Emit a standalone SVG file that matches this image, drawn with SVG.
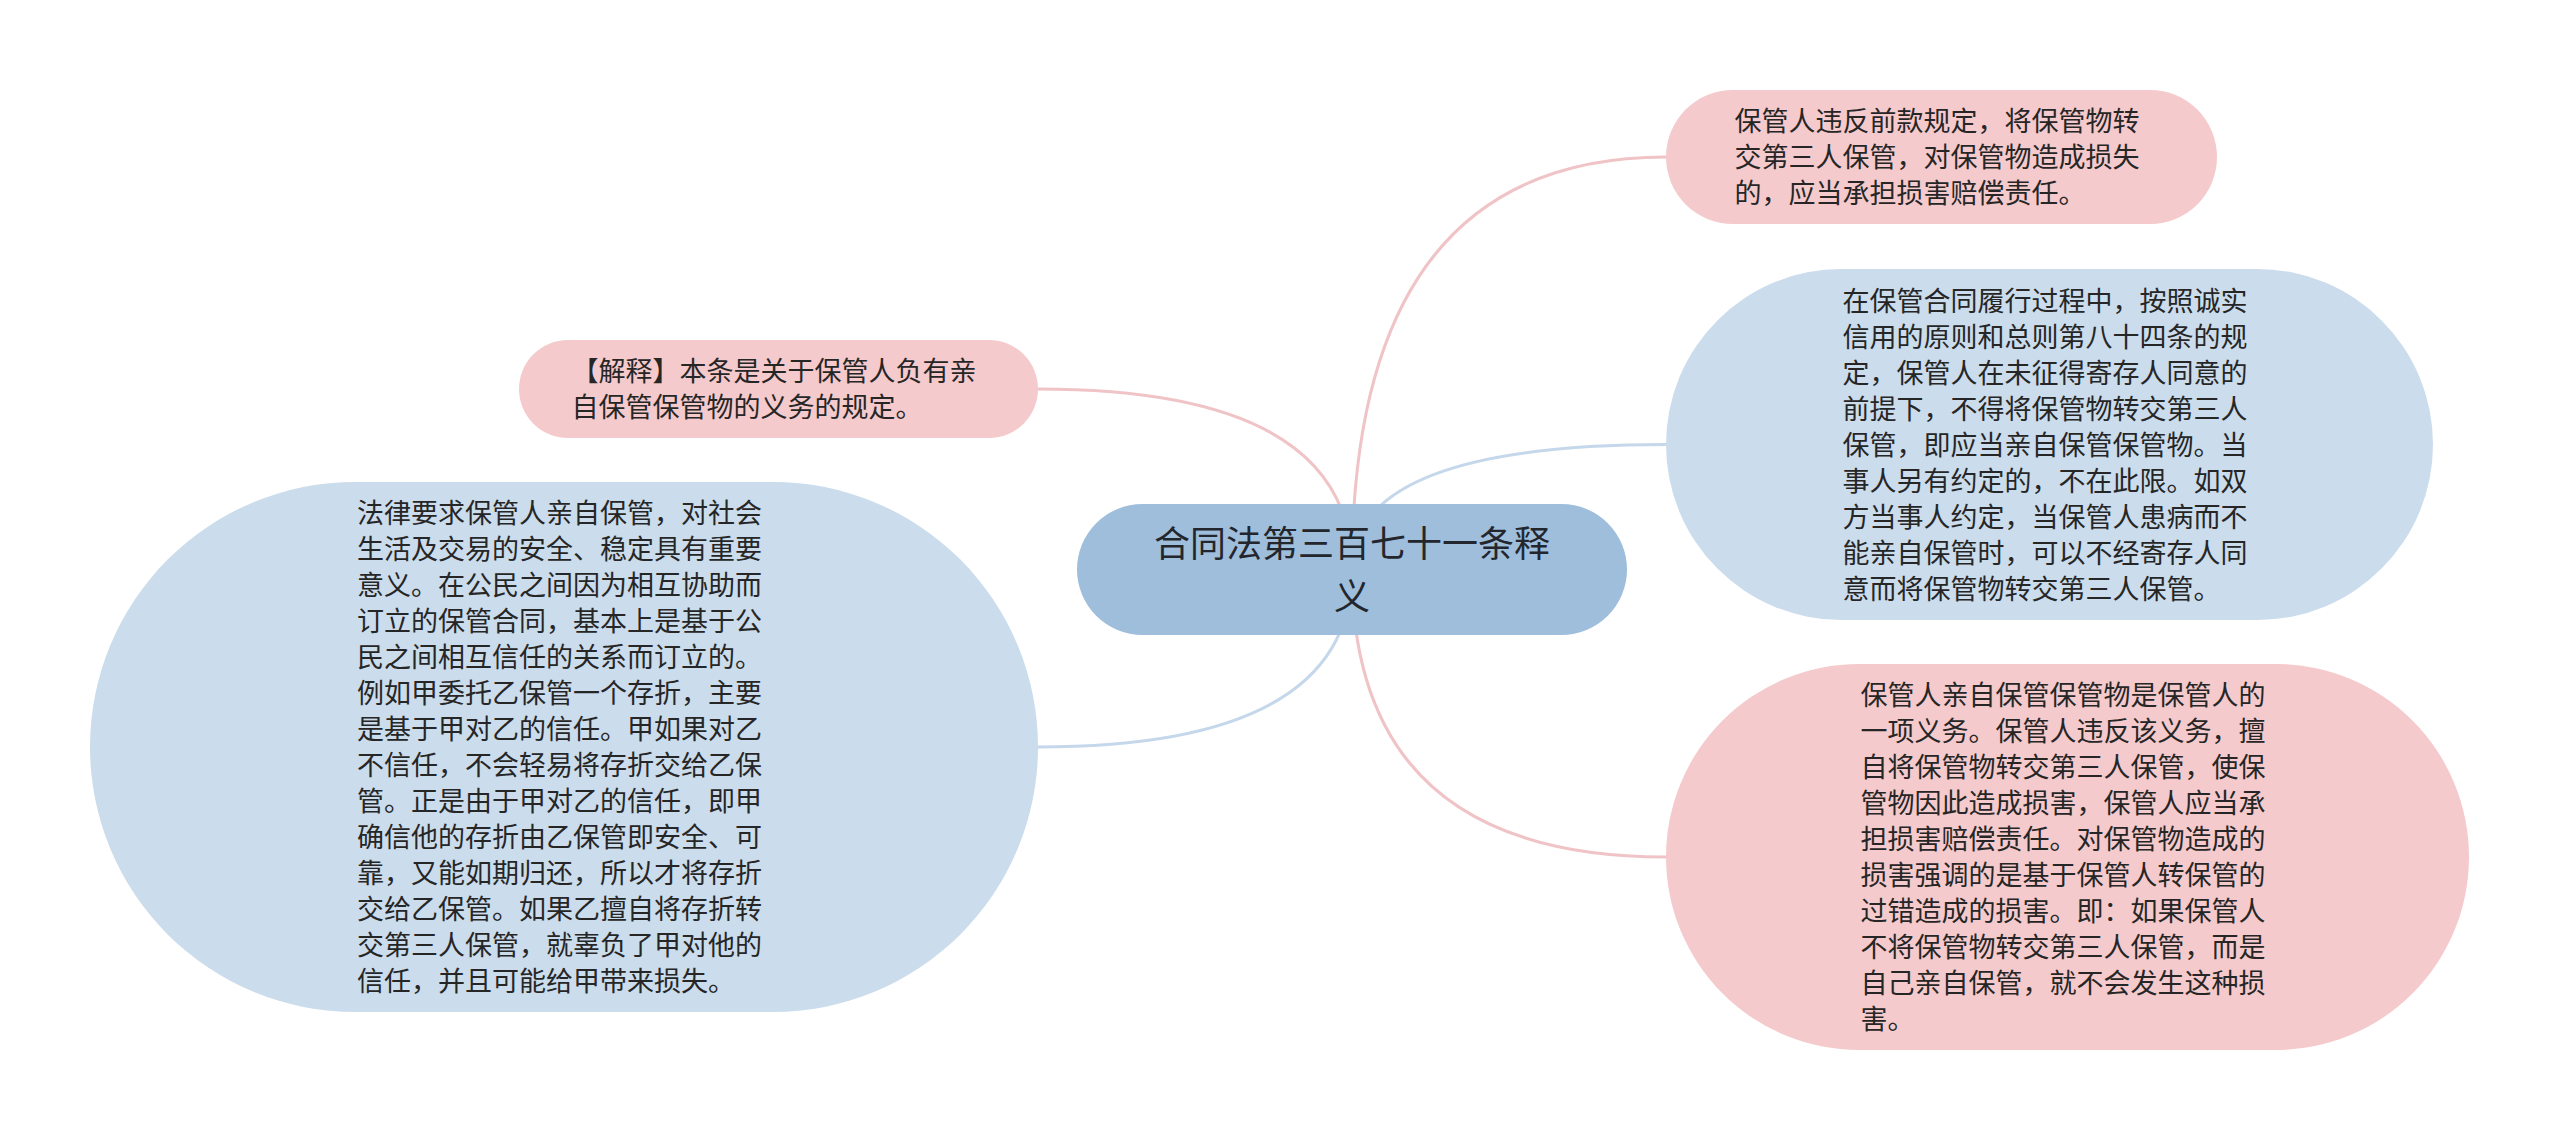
<svg xmlns="http://www.w3.org/2000/svg" width="2560" height="1139" viewBox="0 0 2560 1139">
<style>
.bg{fill:#ffffff}
.edge{fill:none;stroke-width:3}
.ep{stroke:#f0c3c6}
.eb{stroke:#c5d7ea}
.pink{fill:#f5cacc}
.blue{fill:#cbdcec}
.root{fill:#9fbedc}
.t{font-family:"Noto Sans CJK SC","Noto Sans",sans-serif;font-size:27px;fill:#262626}
.rt{font-family:"Noto Sans CJK SC","Noto Sans",sans-serif;font-size:36px;fill:#23272d;text-anchor:middle}
</style>
<rect class="bg" x="0" y="0" width="2560" height="1139"/>
<g id="connectors">
<path class="edge ep" d="M1352,569.5 Q1352,157 1666,157"/>
<path class="edge eb" d="M1352,569.5 Q1352,444.5 1666,444.5"/>
<path class="edge ep" d="M1352,569.5 Q1352,857 1666,857"/>
<path class="edge ep" d="M1352,569.5 Q1352,389 1038,389"/>
<path class="edge eb" d="M1352,569.5 Q1352,747 1038,747"/>
</g>
<g id="root">
<rect class="root" x="1077" y="504" width="550" height="131" rx="65.5" ry="65.5"/>
<text class="rt" x="1352" y="556.5">合同法第三百七十一条释</text>
<text class="rt" x="1352" y="609.5">义</text>
</g>
<g id="n1">
<rect class="pink" x="1666" y="90" width="551" height="134" rx="67" ry="67"/>
<text class="t" x="1734.5" y="131">保管人违反前款规定，将保管物转</text>
<text class="t" x="1734.5" y="167">交第三人保管，对保管物造成损失</text>
<text class="t" x="1734.5" y="203">的，应当承担损害赔偿责任。</text>
</g>
<g id="n2">
<rect class="blue" x="1666" y="269" width="767" height="351" rx="175.5" ry="175.5"/>
<text class="t" x="1842.5" y="310.5">在保管合同履行过程中，按照诚实</text>
<text class="t" x="1842.5" y="346.5">信用的原则和总则第八十四条的规</text>
<text class="t" x="1842.5" y="382.5">定，保管人在未征得寄存人同意的</text>
<text class="t" x="1842.5" y="418.5">前提下，不得将保管物转交第三人</text>
<text class="t" x="1842.5" y="454.5">保管，即应当亲自保管保管物。当</text>
<text class="t" x="1842.5" y="490.5">事人另有约定的，不在此限。如双</text>
<text class="t" x="1842.5" y="526.5">方当事人约定，当保管人患病而不</text>
<text class="t" x="1842.5" y="562.5">能亲自保管时，可以不经寄存人同</text>
<text class="t" x="1842.5" y="598.5">意而将保管物转交第三人保管。</text>
</g>
<g id="n3">
<rect class="pink" x="1666" y="664" width="803" height="386" rx="193" ry="193"/>
<text class="t" x="1860.5" y="705">保管人亲自保管保管物是保管人的</text>
<text class="t" x="1860.5" y="741">一项义务。保管人违反该义务，擅</text>
<text class="t" x="1860.5" y="777">自将保管物转交第三人保管，使保</text>
<text class="t" x="1860.5" y="813">管物因此造成损害，保管人应当承</text>
<text class="t" x="1860.5" y="849">担损害赔偿责任。对保管物造成的</text>
<text class="t" x="1860.5" y="885">损害强调的是基于保管人转保管的</text>
<text class="t" x="1860.5" y="921">过错造成的损害。即：如果保管人</text>
<text class="t" x="1860.5" y="957">不将保管物转交第三人保管，而是</text>
<text class="t" x="1860.5" y="993">自己亲自保管，就不会发生这种损</text>
<text class="t" x="1860.5" y="1029">害。</text>
</g>
<g id="n4">
<rect class="pink" x="519" y="340" width="519" height="98" rx="49" ry="49"/>
<text class="t" x="571.5" y="381">【解释】本条是关于保管人负有亲</text>
<text class="t" x="571.5" y="417">自保管保管物的义务的规定。</text>
</g>
<g id="n5">
<rect class="blue" x="90" y="482" width="948" height="530" rx="265" ry="265"/>
<text class="t" x="357" y="523">法律要求保管人亲自保管，对社会</text>
<text class="t" x="357" y="559">生活及交易的安全、稳定具有重要</text>
<text class="t" x="357" y="595">意义。在公民之间因为相互协助而</text>
<text class="t" x="357" y="631">订立的保管合同，基本上是基于公</text>
<text class="t" x="357" y="667">民之间相互信任的关系而订立的。</text>
<text class="t" x="357" y="703">例如甲委托乙保管一个存折，主要</text>
<text class="t" x="357" y="739">是基于甲对乙的信任。甲如果对乙</text>
<text class="t" x="357" y="775">不信任，不会轻易将存折交给乙保</text>
<text class="t" x="357" y="811">管。正是由于甲对乙的信任，即甲</text>
<text class="t" x="357" y="847">确信他的存折由乙保管即安全、可</text>
<text class="t" x="357" y="883">靠，又能如期归还，所以才将存折</text>
<text class="t" x="357" y="919">交给乙保管。如果乙擅自将存折转</text>
<text class="t" x="357" y="955">交第三人保管，就辜负了甲对他的</text>
<text class="t" x="357" y="991">信任，并且可能给甲带来损失。</text>
</g>
</svg>
